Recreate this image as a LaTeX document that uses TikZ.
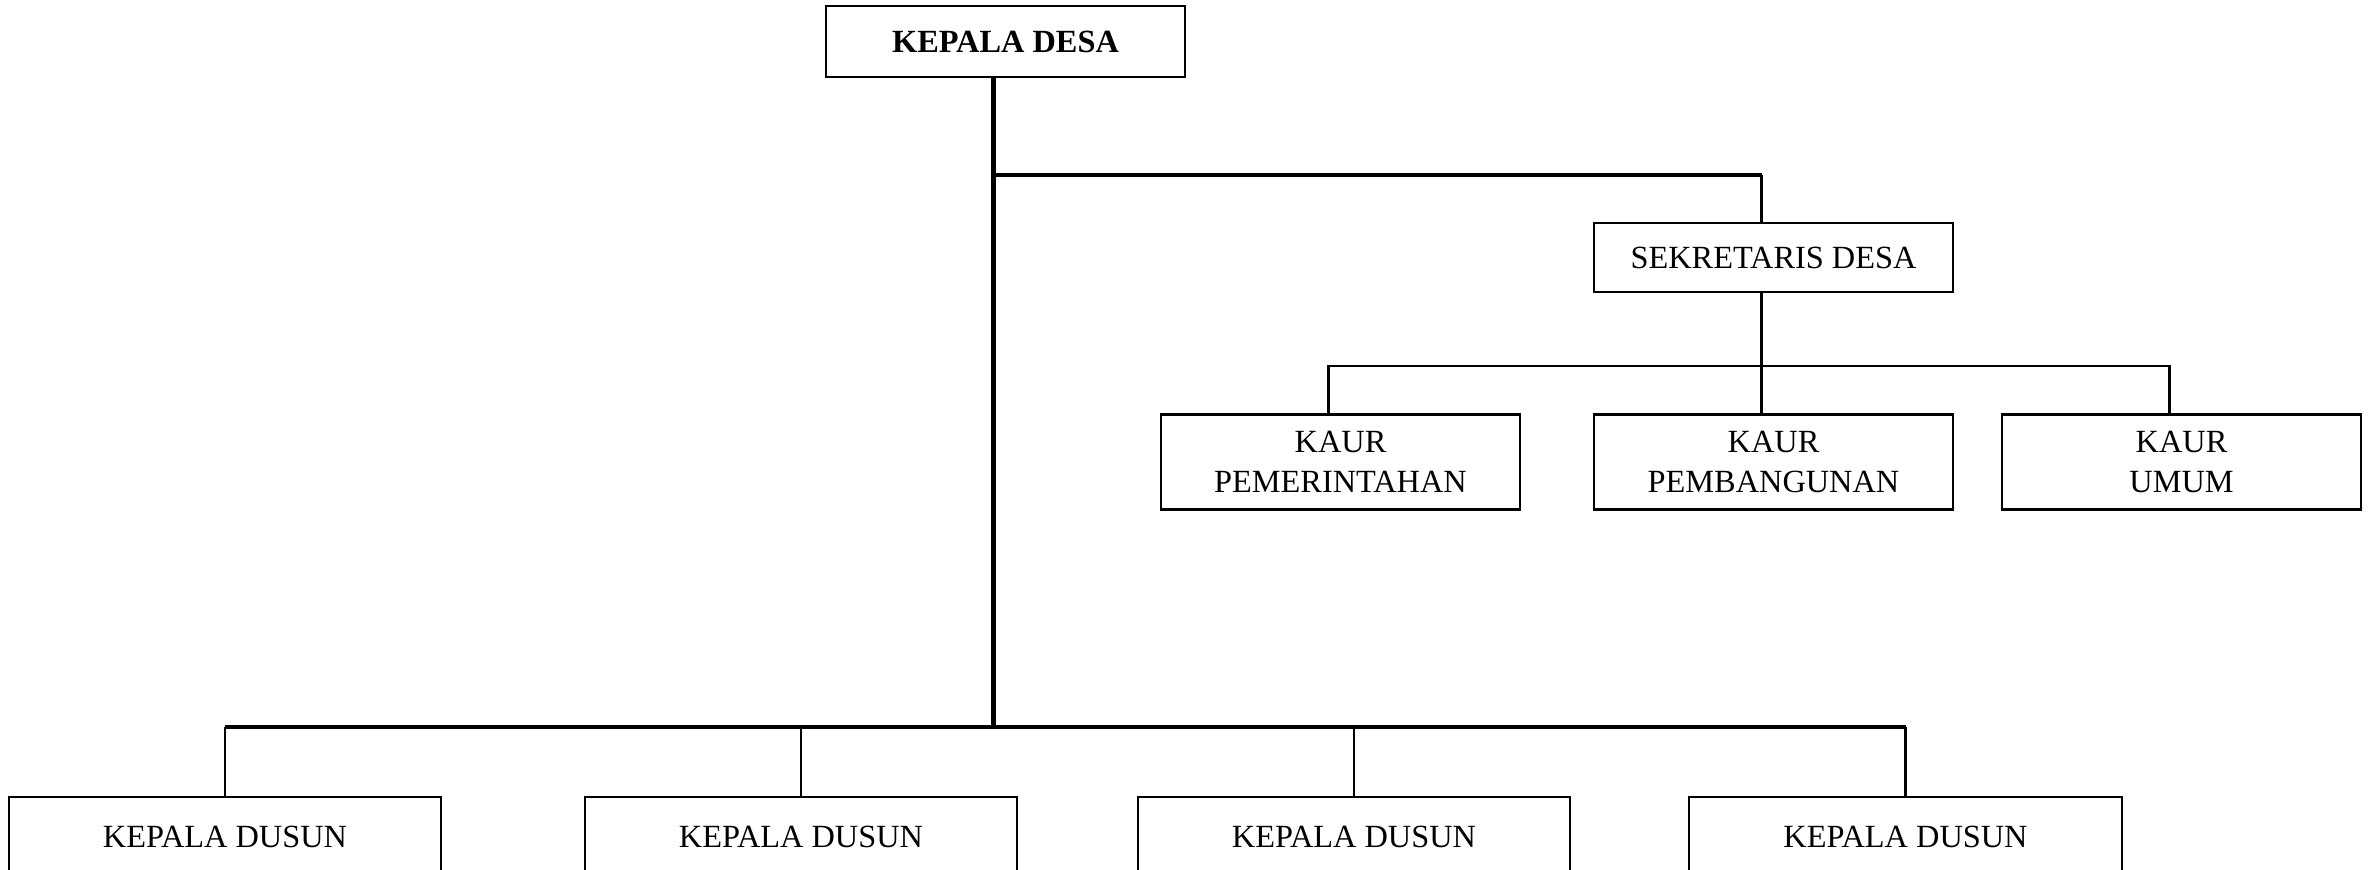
\documentclass[tikz,border=0pt]{standalone}
\usepackage{fontspec}
\setmainfont{Liberation Serif}
\usetikzlibrary{calc}

\begin{document}
\begin{tikzpicture}[
    x=0.01cm,
    y=-0.01cm,
    font=\fontsize{9.2}{11.4}\selectfont,
    unit/.style={
        rectangle,
        draw=black,
        line width=0.6pt,
        minimum width=3.59cm,
        minimum height=0.95cm,
        inner sep=2pt,
        align=center
    },
    dusun/.style={
        unit,
        minimum width=4.32cm,
        minimum height=0.8cm
    },
    trunk/.style={
        draw=black,
        line width=1.15pt
    },
    branch/.style={
        draw=black,
        line width=0.6pt
    }
]

\useasboundingbox (0,0) rectangle (2376,869);
\clip (0,0) rectangle (2376,869);

\node[unit, minimum height=0.71cm, font=\fontsize{9.2}{11.4}\selectfont\bfseries] (kades) at (1005.5,41.5) {KEPALA DESA};
\node[unit, minimum height=0.69cm] (sekdes) at (1773.5,257.5) {SEKRETARIS DESA};

\node[unit] (kaur1) at (1340.5,462) {KAUR\\PEMERINTAHAN};
\node[unit] (kaur2) at (1773.5,462) {KAUR\\PEMBANGUNAN};
\node[unit] (kaur3) at (2181.5,462) {KAUR\\UMUM};

\node[dusun] (dusun1) at (225,837) {KEPALA DUSUN};
\node[dusun] (dusun2) at (801,837) {KEPALA DUSUN};
\node[dusun] (dusun3) at (1354,837) {KEPALA DUSUN};
\node[dusun] (dusun4) at (1905.5,837) {KEPALA DUSUN};

\coordinate (sekIn) at ([xshift=-0.12cm]sekdes.north);

% garis komando utama
\draw[trunk] ([xshift=-0.12cm]kades.south) -- ++(0,97) coordinate (fork) -- ++(0,552) coordinate (hub);
\draw[trunk] (fork) -- (fork -| sekIn);
\draw[branch] (fork -| sekIn) -- (sekIn);

% sekretaris ke kaur
\draw[branch] ([xshift=-0.12cm]sekdes.south) -- ++(0,73) coordinate (bus);
\draw[branch] ([xshift=-0.12cm]kaur1.north) |- (bus) -| ([xshift=-0.12cm]kaur3.north);
\draw[branch] (bus) -- ([xshift=-0.12cm]kaur2.north);

% kepala dusun
\draw[trunk] (dusun1.north |- hub) -- (dusun4.north |- hub);
\foreach \d in {1,...,4}
    \draw[branch] (dusun\d.north |- hub) -- (dusun\d.north);

\end{tikzpicture}
\end{document}
